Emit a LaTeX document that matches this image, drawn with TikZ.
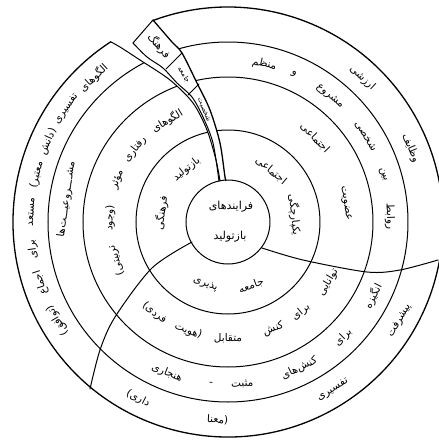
\documentclass[tikz,border=0pt]{standalone}
\usepackage{fontspec}
\newfontfamily\fa[Script=Arabic]{DejaVu Sans}
\TeXXeTstate=1
\newcounter{wn}
\tikzset{
  ln/.style={line width=1pt},
  oln/.style={line width=1.3pt},
  wd/.style={inner sep=0pt, font=\fontsize{10.5}{11}\selectfont},
}
\newcommand\tw[3]{\stepcounter{wn}\node[wd,rotate=#1-90] (w\arabic{wn}) at (#1:#2) {\fa\beginR #3\endR};}
\newcommand\bw[3]{\stepcounter{wn}\node[wd,rotate=#1+90] (w\arabic{wn}) at (#1:#2) {\fa\beginR #3\endR};}
\begin{document}
\begin{tikzpicture}[x=1pt,y=1pt,line cap=round,line join=round]
\useasboundingbox (-228,-218) rectangle (211,222);
\fill[white] (-228,-218) rectangle (211,222);
% rings
\draw[ln] (0,0) circle[radius=92];
\draw[ln] (0,0) circle[radius=145];
\draw[ln] (0,0) circle[radius=180];
\draw[oln] (123:215) arc[start angle=123,end angle=470.4,radius=215];
% clear the gap under the band
\fill[white] plot[smooth] coordinates {(-117,180) (-108,175) (-88,162) (-58,142) (-35,119) (-21,92) (-12,62) (-8,41.2)}
  -- plot[smooth] coordinates {(-2,42) (-3,45) (-8,79) (-18,112) (-31,139) (-46,169) (-56,180) (-75,202)} -- cycle;
\draw[ln] (0,0) circle[radius=42];
% sector line and band
\draw[ln] plot[smooth] coordinates {(-117,180) (-108,175) (-88,162) (-58,142) (-35,119) (-21,92) (-12,62) (-8,41.2)};
\draw[ln] plot[smooth] coordinates {(-95,179) (-81,165) (-65,154) (-51,139) (-36,125) (-25,105) (-15,79) (-9,41)};
\draw[oln] plot[smooth] coordinates {(-75,202) (-56,180) (-46,169) (-31,139) (-18,112) (-8,79) (-3,45) (-2,42)};
\draw[ln] (-75,202) -- (-95,179);
\draw[ln] (-62,153) -- (-46,169);
\draw[ln] (-40,127) -- (-29,138);
% spokes
\draw[ln] plot[smooth] coordinates {(-36,-20) (-76,-46) (-113,-95) (-128,-128) (-138,-167)};
\draw[ln] plot[smooth] coordinates {(34,-26) (75,-38) (139,-50) (172,-48) (210,-38)};
% centre
\node[wd,font=\fontsize{11}{12}\selectfont] (c1) at (3,15) {\fa\beginR فرایندهای\endR};
\node[wd,font=\fontsize{11}{12}\selectfont] (c2) at (2,-15) {\fa\beginR بازتولید\endR};
% band labels
\node[wd,rotate=-50] (b1) at (-69,176) {\fa\beginR فرهنگ\endR};
\node[wd,rotate=-58,font=\fontsize{7}{8}\selectfont] (b2) at (-44,147) {\fa\beginR جامعه\endR};
\node[wd,rotate=-68,font=\fontsize{7}{8}\selectfont] (b3) at (-24,112) {\fa\beginR شخصیت\endR};
% top-right sector
\tw{6}{67}{یکپارچگی}
\tw{50}{67}{اجتماعی}
\tw{9}{119}{عضویت}
\tw{44}{121}{اجتماعی}
\tw{2}{162}{روابط}
\tw{17}{162}{بین}
\tw{32}{162}{شخصی}
\tw{51}{162}{مشروع}
\tw{66}{162}{و}
\tw{77}{162}{منظم}
\tw{22}{197}{وظایف}
\tw{47}{197}{ارزشی}
% bottom sector
\bw{-70}{68}{جامعه}
\bw{-110}{66}{پذیری}
\bw{-31}{117}{توانایی}
\bw{-51}{116}{برای}
\bw{-67}{116}{کنش}
\bw{-90}{116}{متقابل}
\bw{-110}{116}{(هویت}
\bw{-129}{117}{فردی)}
\bw{-27}{163}{انگیزه}
\bw{-45}{163}{برای}
\bw{-64}{163}{کنش‌های}
\bw{-85}{163}{مثبت}
\bw{-96}{163}{-}
\bw{-112}{163}{هنجاری}
\bw{-30}{198}{پیشرفت}
\bw{-58}{198}{تفسیری}
\bw{-93}{198}{(معنا}
\bw{-117}{198}{داری)}
% left sector
\tw{128}{67}{بازتولید}
\tw{172}{67}{فرهنگی}
\tw{121}{118}{الگوهای}
\tw{142}{118}{رفتاری}
\tw{159}{118}{مؤثر}
\tw{178}{118}{(وجود}
\tw{199}{118}{تربیتی)}
\tw{172}{163}{مشــــروعیـــت‌ها}
\tw{133}{197}{الگوهای}
\tw{145}{197}{تفسیری}
\tw{156}{197}{(دانش}
\tw{166}{197}{معتبر)}
\tw{177}{197}{مستعد}
\tw{188}{197}{برای}
\tw{198}{197}{اجماع}
\tw{210}{197}{(توافق)}
\end{tikzpicture}
\end{document}
